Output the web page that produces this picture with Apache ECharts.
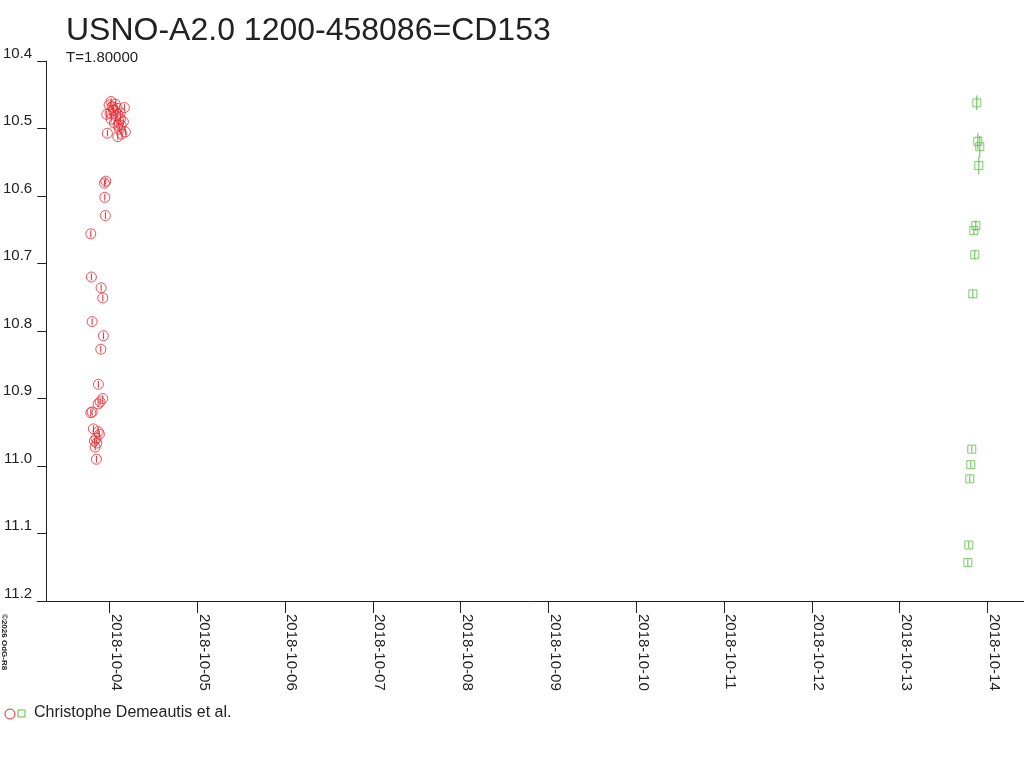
<!DOCTYPE html>
<html>
<head>
<meta charset="utf-8">
<script src="https://cdn.jsdelivr.net/npm/echarts@6/dist/echarts.min.js"></script>
<style>
html,body{margin:0;padding:0;background:#fff;}
#chart{width:1024px;height:768px;}
</style>
</head>
<body>
<div id="chart"></div>
<script>
const titleText = 'USNO-A2.0 1200-458086=CD153';
const subtitleText = 'T=1.80000';
const legendText = 'Christophe Demeautis et al.';
const copyrightText = '\u00A92026 OdG-R8';

const yTicks = [10.4, 10.5, 10.6, 10.7, 10.8, 10.9, 11.0, 11.1, 11.2];
const xMin = '2018-10-03 04:16';
const xMax = '2018-10-14 10:00';

const redTimes = [
  '2018-10-03 18:55','2018-10-03 19:05','2018-10-03 21:44','2018-10-03 22:12','2018-10-03 19:17',
  '2018-10-03 22:22','2018-10-03 21:39','2018-10-03 21:00','2018-10-03 22:12','2018-10-03 21:28',
  '2018-10-03 20:55','2018-10-03 19:17','2018-10-03 18:55','2018-10-03 19:38','2018-10-03 20:55',
  '2018-10-03 21:16','2018-10-03 20:22','2018-10-03 19:54','2018-10-03 20:34','2018-10-03 20:06',
  '2018-10-03 20:27','2018-10-03 22:45','2018-10-03 22:54','2018-10-03 23:01','2018-10-03 22:38',
  '2018-10-03 23:27','2018-10-04 00:28','2018-10-03 23:55','2018-10-04 01:38','2018-10-04 04:06',
  '2018-10-03 23:17','2018-10-04 01:06','2018-10-04 02:18','2018-10-04 03:49','2018-10-04 03:00',
  '2018-10-04 00:28','2018-10-04 01:22','2018-10-04 04:22','2018-10-04 02:44','2018-10-04 02:18',
  '2018-10-04 03:23','2018-10-04 00:11','2018-10-04 02:06','2018-10-04 03:12','2018-10-04 00:44',
  '2018-10-04 01:49','2018-10-04 02:22','2018-10-04 02:57'
];
const redMags = [
  10.656,10.720,10.736,10.751,10.786,
  10.807,10.827,10.879,10.900,10.905,
  10.908,10.920,10.921,10.945,10.949,
  10.953,10.959,10.963,10.966,10.972,
  10.990,10.602,10.629,10.578,10.581,
  10.507,10.460,10.465,10.464,10.469,
  10.479,10.473,10.479,10.490,10.486,
  10.486,10.492,10.505,10.501,10.512,
  10.508,10.477,10.470,10.495,10.468,
  10.481,10.495,10.477
];
const redErrs = [
  0.005,0.005,0.005,0.005,0.005,
  0.005,0.005,0.005,0.005,0.005,
  0.005,0.005,0.005,0.005,0.005,
  0.005,0.005,0.005,0.005,0.005,
  0.005,0.005,0.005,0.005,0.005,
  0.005,0.005,0.005,0.005,0.005,
  0.005,0.005,0.005,0.005,0.005,
  0.005,0.005,0.005,0.005,0.005,
  0.005,0.005,0.005,0.005,0.005,
  0.005,0.005,0.005
];

const greenTimes = [
  '2018-10-13 21:06','2018-10-13 21:23','2018-10-13 21:55','2018-10-13 21:39','2018-10-13 20:50',
  '2018-10-13 20:17','2018-10-13 20:33','2018-10-13 20:01','2018-10-13 19:44','2018-10-13 19:28',
  '2018-10-13 19:11','2018-10-13 18:55','2018-10-13 18:39'
];
const greenMags = [
  10.462,10.519,10.527,10.555,10.644,
  10.651,10.687,10.745,10.975,10.998,
  11.019,11.117,11.143
];
const greenErrs = [
  0.011,0.012,0.016,0.013,0.008,
  0.006,0.007,0.006,0.005,0.005,
  0.005,0.005,0.005
];

const RED = '#e8262d';
const GREEN = '#5bbb46';
const INK = '#222';
const FONT = '"Liberation Sans", Arial, sans-serif';

const ts = s => +echarts.time.parse(s);
const redData = redTimes.map((t, i) => [ts(t), redMags[i], redErrs[i]]);
const greenData = greenTimes.map((t, i) => [ts(t), greenMags[i], greenErrs[i]]);

function errRender(color) {
  return function (params, api) {
    const x = api.value(0), y = api.value(1), e = api.value(2);
    const p1 = api.coord([x, y - e]);
    const p2 = api.coord([x, y + e]);
    return {
      type: 'line',
      shape: { x1: p1[0], y1: p1[1], x2: p2[0], y2: p2[1] },
      style: { stroke: color, lineWidth: 1 }
    };
  };
}

const chart = echarts.init(document.getElementById('chart'), null, { renderer: 'canvas' });
chart.setOption({
  animation: false,
  backgroundColor: '#fff',
  textStyle: { fontFamily: FONT },
  grid: { left: 36, right: 0, top: 61, bottom: 167, containLabel: false },
  xAxis: {
    type: 'time',
    min: ts(xMin),
    max: ts(xMax),
    minInterval: 86400000,
    maxInterval: 86400000,
    splitLine: { show: false },
    axisLine: { show: true, lineStyle: { color: INK, width: 1 } },
    axisTick: { show: true, length: 12, lineStyle: { color: INK, width: 1 } },
    minorTick: { show: false },
    axisLabel: {
      rotate: -90,
      margin: 13,
      fontSize: 15,
      lineHeight: 13,
      color: INK,
      fontFamily: FONT,
      verticalAlign: 'bottom',
      showMinLabel: false,
      showMaxLabel: false,
      formatter: v => echarts.time.format(v, '{yyyy}-{MM}-{dd}', false)
    }
  },
  yAxis: {
    type: 'value',
    inverse: true,
    min: yTicks[0],
    max: yTicks[yTicks.length - 1],
    interval: 0.1,
    offset: -9,
    splitLine: { show: false },
    axisLine: { show: true, lineStyle: { color: INK, width: 1 } },
    axisTick: { show: true, length: 9, lineStyle: { color: INK, width: 1 } },
    axisLabel: {
      margin: 14,
      fontSize: 15,
      color: INK,
      fontFamily: FONT,
      verticalAlign: 'bottom',
      formatter: v => v.toFixed(1)
    }
  },
  series: [
    {
      type: 'custom',
      renderItem: errRender(RED),
      data: redData,
      encode: { x: 0, y: 1 },
      z: 2
    },
    {
      type: 'scatter',
      data: redData,
      symbol: 'circle',
      symbolSize: 10,
      itemStyle: { color: 'rgba(0,0,0,0)', borderColor: RED, borderWidth: 1 },
      z: 3
    },
    {
      type: 'custom',
      renderItem: errRender(GREEN),
      data: greenData,
      encode: { x: 0, y: 1 },
      z: 2
    },
    {
      type: 'scatter',
      data: greenData,
      symbol: 'rect',
      symbolSize: 8,
      itemStyle: { color: 'rgba(0,0,0,0)', borderColor: GREEN, borderWidth: 1 },
      z: 3
    }
  ],
  graphic: [
    {
      type: 'text', left: 66, top: 15,
      style: { text: titleText, fontSize: 32, fill: INK, fontFamily: FONT }
    },
    {
      type: 'text', left: 66, top: 50,
      style: { text: subtitleText, fontSize: 15, fill: INK, fontFamily: FONT }
    },
    {
      type: 'circle', shape: { cx: 10, cy: 714, r: 5 },
      style: { fill: 'none', stroke: RED, lineWidth: 1 }
    },
    {
      type: 'rect', shape: { x: 18, y: 710, width: 7, height: 7 },
      style: { fill: 'none', stroke: GREEN, lineWidth: 1 }
    },
    {
      type: 'text', x: 34, y: 713,
      style: { text: legendText, fontSize: 16, fill: INK, fontFamily: FONT, textVerticalAlign: 'middle' }
    },
    {
      type: 'text', x: 8, y: 614, rotation: -Math.PI / 2,
      style: { text: copyrightText, fontSize: 8, fontWeight: 'bold', fill: INK, fontFamily: FONT, textVerticalAlign: 'top' }
    }
  ]
});
</script>
</body>
</html>
